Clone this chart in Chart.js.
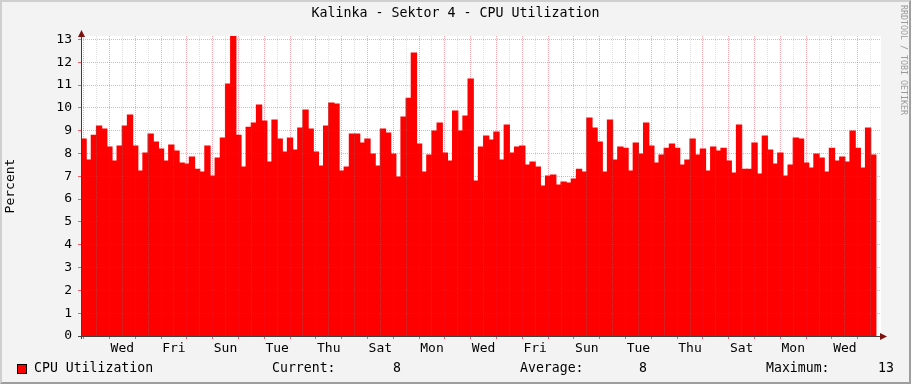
<!DOCTYPE html>
<html><head><meta charset="utf-8">
<script src="https://cdn.jsdelivr.net/npm/chart.js@4/dist/chart.umd.min.js"></script>
<style>
html,body{margin:0;padding:0;background:#F3F3F3;}
#wrap{position:relative;width:911px;height:384px;overflow:hidden;}
canvas{position:absolute;left:0;top:0;}
#frame{position:absolute;left:0;top:0;width:911px;height:384px;box-sizing:border-box;border-style:solid;border-width:2px;border-color:#CFCFCF #9E9E9E #9E9E9E #CFCFCF;pointer-events:none;}
</style></head><body>
<div id="wrap"><canvas id="c" width="911" height="384"></canvas><div id="frame"></div></div>
<script>
const TITLE = 'Kalinka - Sektor 4 - CPU Utilization';
const SERIES_NAME = 'CPU Utilization';
const Y_TITLE = 'Percent';
const WATERMARK = 'RRDTOOL / TOBI OETIKER';
// one label every two days (placed at noon of that day, in bar-slot units)
const DAY_LABELS = ['Wed','Fri','Sun','Tue','Thu','Sat','Mon','Wed','Fri','Sun','Tue','Thu','Sat','Mon','Wed'];
const DAY_LABEL_POS = [8,18,28,38,48,58,68,78,88,98,108,118,128,138,148];
const Y_TICKS = [0,1,2,3,4,5,6,7,8,9,10,11,12,13];
const STAT_LABELS = ['Current:', 'Average:', 'Maximum:'];
const STAT_VALUES = ['8', '8', '13'];
const cpuValues = [
  8.63, 7.71, 8.80, 9.20, 9.07, 8.28, 7.67, 8.32, 9.20, 9.68,
  8.32, 7.23, 8.02, 8.85, 8.50, 8.19, 7.67, 8.37, 8.10, 7.58,
  7.53, 7.84, 7.31, 7.18, 8.32, 7.01, 7.80, 8.67, 11.04, 13.14,
  8.80, 7.40, 9.15, 9.33, 10.12, 9.42, 7.62, 9.46, 8.63, 8.06,
  8.67, 8.15, 9.11, 9.90, 9.07, 8.06, 7.45, 9.20, 10.21, 10.16,
  7.23, 7.40, 8.85, 8.85, 8.45, 8.63, 7.97, 7.45, 9.07, 8.89,
  7.97, 6.96, 9.59, 10.42, 12.40, 8.41, 7.18, 7.93, 8.98, 9.33,
  8.02, 7.67, 9.86, 8.98, 9.64, 11.26, 6.79, 8.28, 8.76, 8.59,
  8.94, 7.71, 9.24, 8.02, 8.28, 8.32, 7.49, 7.62, 7.40, 6.57,
  7.01, 7.05, 6.61, 6.75, 6.70, 6.88, 7.31, 7.18, 9.55, 9.11,
  8.50, 7.18, 9.46, 7.71, 8.28, 8.23, 7.23, 8.45, 7.97, 9.33,
  8.32, 7.58, 7.93, 8.23, 8.41, 8.23, 7.49, 7.71, 8.63, 7.93,
  8.19, 7.23, 8.28, 8.10, 8.23, 7.67, 7.14, 9.24, 7.31, 7.31,
  8.45, 7.10, 8.76, 8.15, 7.53, 8.02, 7.01, 7.49, 8.67, 8.63,
  7.58, 7.36, 7.97, 7.80, 7.18, 8.23, 7.67, 7.84, 7.62, 8.98,
  8.23, 7.36, 9.11, 7.93
];
const SLOTS = 155;   // time slots on the x axis (last one has no data yet)

const FONT = 'DejaVu Sans Mono';
const MGRID = 'rgba(245,29,48,0.38)';
const GRID = 'rgba(143,143,143,0.28)';
const AXIS = '#404040';
const ARROW = '#7F1010';

const points = cpuValues.map((v, i) => ({x: i + 0.5, y: v}));
const xGridPos = [];
for (let v = 0.5; v < SLOTS; v += 2.5) xGridPos.push(v);
const yGridPos = [];
for (let v = 0; v <= 13; v += 0.5) yGridPos.push(v);
const isMajorX = v => Math.abs(((v - 5.5) % 5 + 5) % 5) < 1e-6;

const rrdPlugin = {
  id: 'rrd',
  beforeDraw(chart) {
    const {ctx, chartArea: a} = chart;
    ctx.save();
    ctx.fillStyle = '#FFFFFF';
    ctx.fillRect(a.left, a.top, a.right - a.left, a.bottom - a.top);
    ctx.restore();
  },
  afterDraw(chart) {
    const {ctx, chartArea: a} = chart;
    const xl = Math.round(a.left) + 0.5, yb = Math.round(a.bottom) + 0.5;
    ctx.save();
    ctx.strokeStyle = AXIS; ctx.lineWidth = 1;
    ctx.beginPath();
    ctx.moveTo(xl, a.bottom + 3); ctx.lineTo(xl, a.top - 3);
    ctx.moveTo(a.left - 3, yb); ctx.lineTo(a.right + 3, yb);
    ctx.stroke();
    ctx.fillStyle = ARROW;
    ctx.beginPath();
    ctx.moveTo(xl, a.top - 6); ctx.lineTo(xl - 3.5, a.top + 1); ctx.lineTo(xl + 3.5, a.top + 1); ctx.closePath();
    ctx.fill();
    ctx.beginPath();
    ctx.moveTo(a.right + 6, yb); ctx.lineTo(a.right - 1, yb - 3.5); ctx.lineTo(a.right - 1, yb + 3.5); ctx.closePath();
    ctx.fill();
    // legend
    const ly = 369;
    ctx.fillStyle = '#FF0000';
    ctx.fillRect(17, ly - 5, 10, 10);
    ctx.strokeStyle = '#000'; ctx.lineWidth = 1;
    ctx.strokeRect(17.5, ly - 4.5, 9, 9);
    ctx.fillStyle = '#000';
    ctx.font = '13.2px "' + FONT + '"';
    ctx.textBaseline = 'middle';
    ctx.textAlign = 'left';
    ctx.fillText(SERIES_NAME, 34, ly);
    const labX = [272, 520, 766], valX = [401, 647, 894];
    STAT_LABELS.forEach((t, i) => {
      ctx.textAlign = 'left'; ctx.fillText(t, labX[i], ly);
      ctx.textAlign = 'right'; ctx.fillText(STAT_VALUES[i], valX[i], ly);
    });
    // watermark
    ctx.translate(899, 5);
    ctx.rotate(Math.PI / 2);
    ctx.fillStyle = '#9A9A9A';
    ctx.font = '8.3px "' + FONT + '"';
    ctx.textAlign = 'left';
    ctx.textBaseline = 'bottom';
    ctx.fillText(WATERMARK, 0, 0);
    ctx.restore();
  }
};

new Chart(document.getElementById('c'), {
  type: 'bar',
  data: {
    datasets: [{
      label: SERIES_NAME,
      data: points,
      backgroundColor: '#FF0000',
      borderWidth: 0,
      inflateAmount: 0.6,
      barPercentage: 1,
      categoryPercentage: 1
    }]
  },
  options: {
    responsive: false,
    animation: false,
    devicePixelRatio: 1,
    layout: {padding: {left: 0, right: 0, top: 0, bottom: 0}},
    plugins: {
      legend: {display: false},
      tooltip: {enabled: false},
      title: {
        display: true, text: TITLE, color: '#000',
        font: {family: FONT, size: 13.3, weight: 'normal', lineHeight: 1.2},
        padding: {top: 6, bottom: 14.04}
      }
    },
    scales: {
      x: {
        type: 'linear', min: 0, max: SLOTS, offset: false,
        afterBuildTicks: s => { s.ticks = xGridPos.map(v => ({value: v})); },
        afterFit: s => { s.height = 48; },
        grid: {
          offset: false, z: 1, lineWidth: 1, drawTicks: true, tickLength: 3,
          color: c => (c.tick && isMajorX(c.tick.value)) ? MGRID : GRID,
          tickColor: c => (c.tick && isMajorX(c.tick.value)) ? 'rgba(245,29,48,0.7)' : 'rgba(0,0,0,0)',
          tickBorderDash: []
        },
        border: {display: false, dash: [1, 1]},
        ticks: {
          autoSkip: false, maxRotation: 0, minRotation: 0, padding: 2, color: '#000',
          font: {family: FONT, size: 13},
          callback: v => { const k = DAY_LABEL_POS.indexOf(v); return k >= 0 ? DAY_LABELS[k] : ''; }
        }
      },
      y: {
        type: 'linear', min: 0, max: 13.15,
        afterBuildTicks: s => { s.ticks = yGridPos.map(v => ({value: v})); },
        afterFit: s => { s.width = 81; },
        grid: {
          z: 1, lineWidth: 1, drawTicks: true, tickLength: 3,
          color: c => (c.tick && Number.isInteger(c.tick.value)) ? MGRID : GRID,
          tickColor: c => (c.tick && Number.isInteger(c.tick.value)) ? 'rgba(245,29,48,0.7)' : 'rgba(143,143,143,0.5)',
          tickBorderDash: []
        },
        border: {display: false, dash: [1, 1]},
        title: {
          display: true, text: Y_TITLE, color: '#000',
          font: {family: FONT, size: 13}, padding: {top: 3, bottom: 0}
        },
        ticks: {
          padding: 6, color: '#000', font: {family: FONT, size: 13},
          callback: v => Y_TICKS.includes(v) ? String(v) : ''
        }
      },
      yRight: {
        type: 'linear', position: 'right', min: 0, max: 13.15,
        afterFit: s => { s.width = 30; },
        grid: {display: false, drawTicks: false},
        border: {display: false},
        ticks: {display: false}
      }
    }
  },
  plugins: [rrdPlugin]
});
</script>
</body></html>
